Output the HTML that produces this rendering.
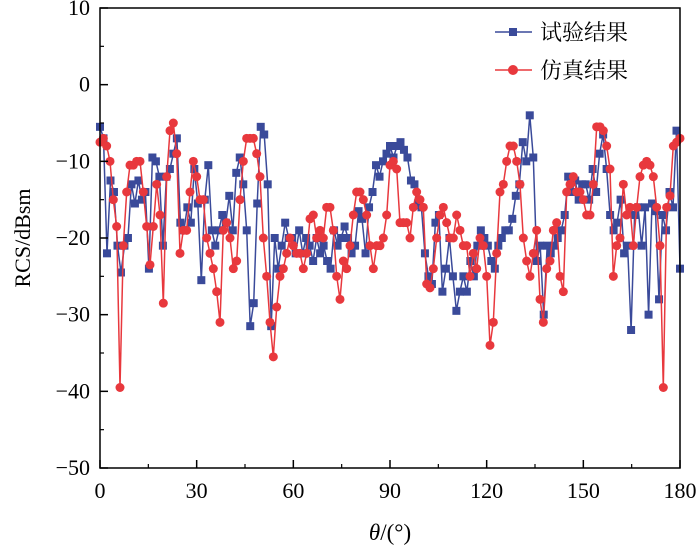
<!DOCTYPE html>
<html><head><meta charset="utf-8"><style>
body{margin:0;background:#fff}
text{font-family:"Liberation Serif","Noto Serif CJK SC",serif;fill:#000}
</style></head><body>
<svg id="chart" width="700" height="550" xmlns="http://www.w3.org/2000/svg">
<g id="grid"></g>
<g id="series"></g>
<rect x="100" y="8" width="580" height="460" fill="none" stroke="#000" stroke-width="1.5"/>
<g id="axes"></g>
<text transform="translate(30,238) rotate(-90)" text-anchor="middle" font-size="22">RCS/dBsm</text>
<text x="390" y="540" text-anchor="middle" font-size="23"><tspan font-style="italic">θ</tspan>/(°)</text>
<g>
<line x1="495" y1="32" x2="532" y2="32" stroke="#3a4a9a" stroke-width="1.5"/>
<rect x="509" y="28" width="8" height="8" fill="#3a4a9a"/>
<text x="540" y="40" font-size="22">试验结果</text>
<line x1="495" y1="70" x2="532" y2="70" stroke="#e8383d" stroke-width="1.5"/>
<circle cx="513" cy="70" r="5" fill="#e8383d"/>
<text x="540" y="78" font-size="22">仿真结果</text>
</g>
</svg>
<script>
const xTicks=[0,30,60,90,120,150,180];
const yTicks=[10,0,-10,-20,-30,-40,-50];
const testValues=[-5.5,-7,-22,-12.5,-14,-21,-24.5,-21,-20,-13,-15.5,-12.5,-15,-14,-24,-9.5,-10,-12,-21,-12,-11,-9,-7,-18,-19,-16,-18,-11,-15.5,-25.5,-15,-10.5,-19,-21,-19,-17,-18,-14.5,-19,-11.5,-9.5,-13,-19,-31.5,-28.5,-15.5,-5.5,-6.5,-13,-31.5,-20,-24,-21,-18,-20,-20,-22,-19,-22,-20,-21,-23,-20,-22,-21,-23,-24,-19,-21,-20,-18.5,-20,-22,-21,-16.5,-17.5,-22,-16,-14,-10.5,-12,-10,-9,-8,-9.5,-8,-7.5,-8.5,-9.5,-12.5,-13,-15.5,-16,-22,-25,-26,-18,-17,-27,-24,-20,-25,-29.5,-27,-25,-27,-23,-25,-21,-19,-20,-21,-23,-24,-21,-20,-19,-19,-17.5,-14.5,-13,-7.5,-10,-4,-9.5,-23,-21,-30,-21,-22,-21,-20,-19,-17,-12,-14,-12.5,-15,-13,-13,-15,-11,-14,-9,-6.5,-11,-17,-19,-18,-15,-22,-21,-32,-17,-16,-21,-16,-30,-15.5,-16.5,-28,-17,-19,-14,-16,-6,-24];
const simValues=[-7.5,-7,-8,-10,-15,-18.5,-39.5,-21,-14,-10.5,-10.5,-10,-10,-14,-18.5,-23.5,-18.5,-13,-17,-28.5,-12,-6,-5,-9,-22,-19,-19,-14,-10,-12,-15,-15,-20,-22,-24,-27,-31,-19,-18,-20,-24,-23,-15,-10,-7,-7,-7,-9,-12,-20,-25,-31,-35.5,-29,-25,-24,-22,-20,-21,-22,-22,-24,-22,-17.5,-17,-20,-19,-20,-16,-16,-19,-25,-28,-23,-24,-21,-17,-14,-14,-15,-17,-21,-24,-21,-21,-20,-17,-10.5,-10,-11,-18,-18,-18,-20,-16,-14,-15,-16,-26,-26.5,-24,-20,-17,-16,-18,-20,-20,-17,-19,-21,-21,-25,-22,-24,-20,-21,-25,-34,-31,-22,-14,-13,-10,-8,-8,-10,-13,-20,-23,-25,-22,-19,-28,-31,-24,-23,-19,-18,-25,-27,-14,-13,-12,-14,-14,-15,-17,-17,-13,-5.5,-5.5,-6,-8,-11,-25,-21,-20,-13,-17,-16,-21,-16,-12,-10.5,-10,-10.5,-12,-16,-21,-39.5,-16,-14.5,-8,-7.5,-7];
const NS="http://www.w3.org/2000/svg";
const X=v=>100+v/180*580, Y=v=>8+(10-v)/60*460;
function mk(tag,attrs,parent){const e=document.createElementNS(NS,tag);for(const k in attrs)e.setAttribute(k,attrs[k]);parent.appendChild(e);return e;}
const axes=document.getElementById('axes'), ser=document.getElementById('series');
xTicks.forEach(t=>{
  const l=mk('line',{x1:X(t),x2:X(t),y1:468,y2:460,stroke:'#000','stroke-width':1.5},axes);
  
  
  const tx=mk('text',{x:X(t),y:498,'text-anchor':'middle','font-size':22},axes);tx.textContent=t;
  
  
});
for(let t=15;t<180;t+=30){const l=mk('line',{x1:X(t),x2:X(t),y1:468,y2:464,stroke:'#000','stroke-width':1.2},axes);
  
  }
yTicks.forEach(t=>{
  const l=mk('line',{x1:100,x2:108,y1:Y(t),y2:Y(t),stroke:'#000','stroke-width':1.5},axes);
  
  
  const tx=mk('text',{x:90,y:Y(t)+7,'text-anchor':'end','font-size':22},axes);tx.textContent=t<0?'−'+(-t):t;
  
  
});
for(let t=5;t>-50;t-=10){const l=mk('line',{x1:100,x2:104,y1:Y(t),y2:Y(t),stroke:'#000','stroke-width':1.2},axes);
  
  }
function draw(vals,color,square,name){
  const step=180/(vals.length-1);
  const pts=vals.map((v,i)=>X(i*step).toFixed(1)+','+Y(v).toFixed(1)).join(' ');
  const pl=mk('polyline',{points:pts,fill:'none',stroke:color,'stroke-width':1.5},ser);
  
  
  vals.forEach((v,i)=>{
    let m;
    if(square) m=mk('rect',{x:X(i*step)-4,y:Y(v)-4,width:8,height:8,fill:color},ser);
    else m=mk('circle',{cx:X(i*step),cy:Y(v),r:4.5,fill:color},ser);
    
    
  });
}
draw(testValues,'#3a4a9a',true,'test');
draw(simValues,'#e8383d',false,'sim');
</script>
</body></html>
